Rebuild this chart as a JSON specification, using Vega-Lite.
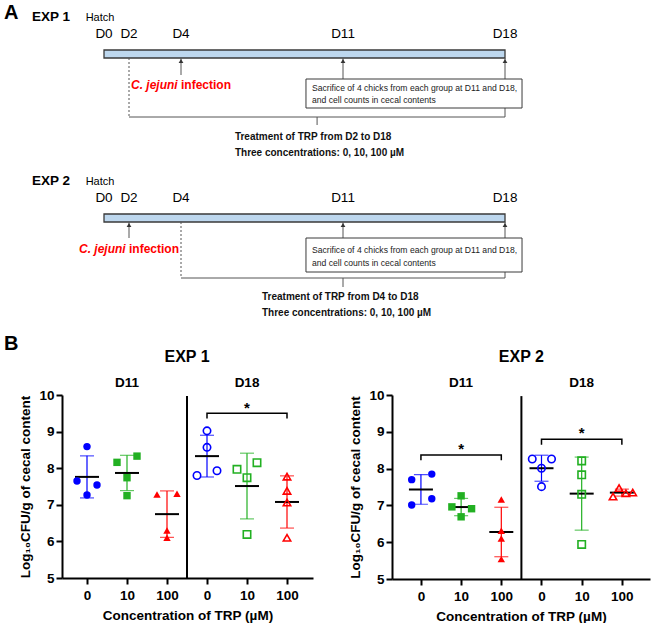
{
  "$schema": "https://vega.github.io/schema/vega-lite/v6.json",
  "padding": {"left": 4, "top": 0, "right": 0, "bottom": 0},
  "bounds": "flush",
  "spacing": 75,
  "config": {
    "font": "Liberation Sans",
    "view": {"stroke": null},
    "axis": {"domainColor": "#000", "domainWidth": 2, "tickColor": "#000", "tickWidth": 2, "tickSize": 6, "labelFontSize": 13.5, "labelFontWeight": "bold", "labelColor": "#000", "titleFontSize": 13.5, "titleFontWeight": "bold", "titleColor": "#000", "grid": false}
  },
  "datasets": {
    "pts": [
      {"exp": "EXP 1", "day": "D11", "conc": "0", "pos": 1, "xj": 1.0, "value": 8.59},
      {"exp": "EXP 1", "day": "D11", "conc": "0", "pos": 1, "xj": 0.75, "value": 7.65},
      {"exp": "EXP 1", "day": "D11", "conc": "0", "pos": 1, "xj": 1.25, "value": 7.54},
      {"exp": "EXP 1", "day": "D11", "conc": "0", "pos": 1, "xj": 1.0, "value": 7.27},
      {"exp": "EXP 1", "day": "D11", "conc": "10", "pos": 2, "xj": 1.75, "value": 8.16},
      {"exp": "EXP 1", "day": "D11", "conc": "10", "pos": 2, "xj": 2.25, "value": 8.33},
      {"exp": "EXP 1", "day": "D11", "conc": "10", "pos": 2, "xj": 2.0, "value": 7.74},
      {"exp": "EXP 1", "day": "D11", "conc": "10", "pos": 2, "xj": 2.0, "value": 7.25},
      {"exp": "EXP 1", "day": "D11", "conc": "100", "pos": 3, "xj": 2.75, "value": 7.28},
      {"exp": "EXP 1", "day": "D11", "conc": "100", "pos": 3, "xj": 3.25, "value": 7.3},
      {"exp": "EXP 1", "day": "D11", "conc": "100", "pos": 3, "xj": 3.0, "value": 6.3},
      {"exp": "EXP 1", "day": "D11", "conc": "100", "pos": 3, "xj": 3.0, "value": 6.1},
      {"exp": "EXP 1", "day": "D18", "conc": "0", "pos": 4, "xj": 4.0, "value": 9.02},
      {"exp": "EXP 1", "day": "D18", "conc": "0", "pos": 4, "xj": 4.0, "value": 8.57},
      {"exp": "EXP 1", "day": "D18", "conc": "0", "pos": 4, "xj": 3.75, "value": 7.8},
      {"exp": "EXP 1", "day": "D18", "conc": "0", "pos": 4, "xj": 4.25, "value": 7.93},
      {"exp": "EXP 1", "day": "D18", "conc": "10", "pos": 5, "xj": 4.75, "value": 7.97},
      {"exp": "EXP 1", "day": "D18", "conc": "10", "pos": 5, "xj": 5.25, "value": 8.15},
      {"exp": "EXP 1", "day": "D18", "conc": "10", "pos": 5, "xj": 5.0, "value": 7.74},
      {"exp": "EXP 1", "day": "D18", "conc": "10", "pos": 5, "xj": 5.0, "value": 6.19},
      {"exp": "EXP 1", "day": "D18", "conc": "100", "pos": 6, "xj": 6.0, "value": 7.77},
      {"exp": "EXP 1", "day": "D18", "conc": "100", "pos": 6, "xj": 6.0, "value": 7.38},
      {"exp": "EXP 1", "day": "D18", "conc": "100", "pos": 6, "xj": 6.0, "value": 7.06},
      {"exp": "EXP 1", "day": "D18", "conc": "100", "pos": 6, "xj": 6.0, "value": 6.1},
      {"exp": "EXP 2", "day": "D11", "conc": "0", "pos": 1, "xj": 0.77, "value": 7.7},
      {"exp": "EXP 2", "day": "D11", "conc": "0", "pos": 1, "xj": 1.27, "value": 7.85},
      {"exp": "EXP 2", "day": "D11", "conc": "0", "pos": 1, "xj": 0.77, "value": 7.01},
      {"exp": "EXP 2", "day": "D11", "conc": "0", "pos": 1, "xj": 1.27, "value": 7.18},
      {"exp": "EXP 2", "day": "D11", "conc": "10", "pos": 2, "xj": 2.0, "value": 7.26},
      {"exp": "EXP 2", "day": "D11", "conc": "10", "pos": 2, "xj": 1.77, "value": 6.96},
      {"exp": "EXP 2", "day": "D11", "conc": "10", "pos": 2, "xj": 2.26, "value": 6.91},
      {"exp": "EXP 2", "day": "D11", "conc": "10", "pos": 2, "xj": 2.0, "value": 6.69},
      {"exp": "EXP 2", "day": "D11", "conc": "100", "pos": 3, "xj": 3.0, "value": 7.16},
      {"exp": "EXP 2", "day": "D11", "conc": "100", "pos": 3, "xj": 3.0, "value": 6.31},
      {"exp": "EXP 2", "day": "D11", "conc": "100", "pos": 3, "xj": 3.0, "value": 6.1},
      {"exp": "EXP 2", "day": "D11", "conc": "100", "pos": 3, "xj": 3.0, "value": 5.54},
      {"exp": "EXP 2", "day": "D18", "conc": "0", "pos": 4, "xj": 3.77, "value": 8.26},
      {"exp": "EXP 2", "day": "D18", "conc": "0", "pos": 4, "xj": 4.25, "value": 8.26},
      {"exp": "EXP 2", "day": "D18", "conc": "0", "pos": 4, "xj": 4.0, "value": 8.01},
      {"exp": "EXP 2", "day": "D18", "conc": "0", "pos": 4, "xj": 4.0, "value": 7.51},
      {"exp": "EXP 2", "day": "D18", "conc": "10", "pos": 5, "xj": 5.0, "value": 8.21},
      {"exp": "EXP 2", "day": "D18", "conc": "10", "pos": 5, "xj": 5.0, "value": 7.83},
      {"exp": "EXP 2", "day": "D18", "conc": "10", "pos": 5, "xj": 5.0, "value": 7.3},
      {"exp": "EXP 2", "day": "D18", "conc": "10", "pos": 5, "xj": 5.0, "value": 5.94},
      {"exp": "EXP 2", "day": "D18", "conc": "100", "pos": 6, "xj": 5.78, "value": 7.24},
      {"exp": "EXP 2", "day": "D18", "conc": "100", "pos": 6, "xj": 5.93, "value": 7.47},
      {"exp": "EXP 2", "day": "D18", "conc": "100", "pos": 6, "xj": 6.1, "value": 7.33},
      {"exp": "EXP 2", "day": "D18", "conc": "100", "pos": 6, "xj": 6.27, "value": 7.35}
    ],
    "brackets": [
      {"exp": "EXP 1", "bid": "a", "o": 1, "x": 4, "y": 9.36},
      {"exp": "EXP 1", "bid": "a", "o": 2, "x": 4, "y": 9.5},
      {"exp": "EXP 1", "bid": "a", "o": 3, "x": 6, "y": 9.5},
      {"exp": "EXP 1", "bid": "a", "o": 4, "x": 6, "y": 9.36},
      {"exp": "EXP 2", "bid": "b", "o": 1, "x": 1, "y": 8.23},
      {"exp": "EXP 2", "bid": "b", "o": 2, "x": 1, "y": 8.37},
      {"exp": "EXP 2", "bid": "b", "o": 3, "x": 3, "y": 8.37},
      {"exp": "EXP 2", "bid": "b", "o": 4, "x": 3, "y": 8.23},
      {"exp": "EXP 2", "bid": "c", "o": 1, "x": 4, "y": 8.65},
      {"exp": "EXP 2", "bid": "c", "o": 2, "x": 4, "y": 8.8},
      {"exp": "EXP 2", "bid": "c", "o": 3, "x": 6, "y": 8.8},
      {"exp": "EXP 2", "bid": "c", "o": 4, "x": 6, "y": 8.65}
    ],
    "labels": [
      {"exp": "EXP 1", "kind": "star", "x": 5, "y": 9.52, "text": "*"},
      {"exp": "EXP 2", "kind": "star", "x": 2, "y": 8.39, "text": "*"},
      {"exp": "EXP 2", "kind": "star", "x": 5, "y": 8.82, "text": "*"},
      {"exp": "EXP 1", "kind": "head", "x": 2, "y": 10.22, "text": "D11"},
      {"exp": "EXP 1", "kind": "head", "x": 5, "y": 10.22, "text": "D18"},
      {"exp": "EXP 2", "kind": "head", "x": 2, "y": 10.22, "text": "D11"},
      {"exp": "EXP 2", "kind": "head", "x": 5, "y": 10.22, "text": "D18"},
      {"exp": "EXP 1", "kind": "title", "x": 3.5, "y": 10.9, "text": "EXP 1"},
      {"exp": "EXP 2", "kind": "title", "x": 3.5, "y": 10.9, "text": "EXP 2"}
    ]
  },
  "vconcat": [
    {
      "width": 598,
      "height": 320,
      "encoding": {
        "x": {"field": "day", "type": "quantitative", "scale": {"domain": [-8, 0, 2, 4, 11, 18, 19], "range": [-58, 42, 67, 119, 281, 443, 466], "nice": false, "zero": false}, "axis": null},
        "y": {"field": "y", "type": "quantitative", "scale": {"domain": [0, 320], "range": [0, 320], "nice": false, "zero": false}, "axis": null}
      },
      "layer": [
        {
          "data": {"values": [
            {"day": 0, "day2": 18, "y": 50, "y2": 58},
            {"day": 0, "day2": 18, "y": 214, "y2": 222}
          ]},
          "mark": {"type": "rect", "fill": "#bdd7ee", "stroke": "#3a3a3a", "strokeWidth": 1.3},
          "encoding": {"x2": {"field": "day2"}, "y2": {"field": "y2"}}
        },
        {
          "data": {"values": [
            {"day": 4, "day2": 4, "y": 58, "y2": 75},
            {"day": 11, "day2": 11, "y": 58, "y2": 79},
            {"day": 18, "day2": 18, "y": 58, "y2": 79},
            {"day": 2, "day2": 18, "y": 117, "y2": 117},
            {"day": 18, "day2": 18, "y": 108, "y2": 117},
            {"day": 9.88, "day2": 9.88, "y": 117, "y2": 125},
            {"day": 2, "day2": 2, "y": 222, "y2": 238},
            {"day": 11, "day2": 11, "y": 222, "y2": 238},
            {"day": 18, "day2": 18, "y": 222, "y2": 238},
            {"day": 4, "day2": 18, "y": 278, "y2": 278},
            {"day": 18, "day2": 18, "y": 272, "y2": 278},
            {"day": 11, "day2": 11, "y": 278, "y2": 287}
          ]},
          "mark": {"type": "rule", "color": "#555", "strokeWidth": 1},
          "encoding": {"x2": {"field": "day2"}, "y2": {"field": "y2"}}
        },
        {
          "data": {"values": [
            {"day": 2, "day2": 2, "y": 58, "y2": 117},
            {"day": 4, "day2": 4, "y": 222, "y2": 278}
          ]},
          "mark": {"type": "rule", "color": "#555", "strokeWidth": 1, "strokeDash": [2, 2]},
          "encoding": {"x2": {"field": "day2"}, "y2": {"field": "y2"}}
        },
        {
          "data": {"values": [
            {"day": 9.4, "day2": 18.74, "y": 79, "y2": 108},
            {"day": 9.4, "day2": 18.74, "y": 238, "y2": 272}
          ]},
          "mark": {"type": "rect", "fill": "#ffffff", "stroke": "#3a3a3a", "strokeWidth": 1},
          "encoding": {"x2": {"field": "day2"}, "y2": {"field": "y2"}}
        },
        {
          "data": {"values": [
            {"day": 4, "y": 61}, {"day": 11, "y": 61}, {"day": 18, "y": 61},
            {"day": 2, "y": 225}, {"day": 11, "y": 225}, {"day": 18, "y": 225}
          ]},
          "mark": {"type": "point", "shape": "triangle-up", "filled": true, "size": 22, "color": "#333", "opacity": 1},
          "encoding": {}
        },
        {
          "data": {"values": [{"day": -8, "y": 19, "text": "A"}]},
          "mark": {"type": "text", "align": "left", "baseline": "alphabetic", "fontSize": 20, "fontWeight": "bold", "color": "#000"},
          "encoding": {"text": {"field": "text"}}
        },
        {
          "data": {"values": [{"day": -5.76, "y": 21, "text": "EXP 1"}, {"day": -5.76, "y": 185, "text": "EXP 2"}]},
          "mark": {"type": "text", "align": "left", "baseline": "alphabetic", "fontSize": 13.5, "fontWeight": "bold", "color": "#000"},
          "encoding": {"text": {"field": "text"}}
        },
        {
          "data": {"values": [{"day": -0.32, "y": 21, "text": "Hatch"}, {"day": -0.32, "y": 185, "text": "Hatch"}]},
          "mark": {"type": "text", "align": "center", "baseline": "alphabetic", "fontSize": 11, "color": "#000"},
          "encoding": {"text": {"field": "text"}}
        },
        {
          "data": {"values": [
            {"day": 0, "y": 38, "text": "D0"}, {"day": 2, "y": 38, "text": "D2"}, {"day": 4, "y": 38, "text": "D4"}, {"day": 11, "y": 38, "text": "D11"}, {"day": 18, "y": 38, "text": "D18"},
            {"day": 0, "y": 202, "text": "D0"}, {"day": 2, "y": 202, "text": "D2"}, {"day": 4, "y": 202, "text": "D4"}, {"day": 11, "y": 202, "text": "D11"}, {"day": 18, "y": 202, "text": "D18"}
          ]},
          "mark": {"type": "text", "align": "center", "baseline": "alphabetic", "fontSize": 13.5, "color": "#000"},
          "encoding": {"text": {"field": "text"}}
        },
        {
          "data": {"values": [{"day": 4, "y": 89, "text": "C. jejuni"}, {"day": 2, "y": 253, "text": "C. jejuni"}]},
          "mark": {"type": "text", "align": "right", "dx": -3.3, "baseline": "alphabetic", "fontSize": 12, "fontWeight": "bold", "fontStyle": "italic", "color": "#ff0000"},
          "encoding": {"text": {"field": "text"}}
        },
        {
          "data": {"values": [{"day": 4, "y": 89, "text": "infection"}, {"day": 2, "y": 253, "text": "infection"}]},
          "mark": {"type": "text", "align": "left", "baseline": "alphabetic", "fontSize": 12, "fontWeight": "bold", "color": "#ff0000"},
          "encoding": {"text": {"field": "text"}}
        },
        {
          "data": {"values": [
            {"day": 9.66, "y": 88, "text": "Sacrifice of 4 chicks from each group at D11 and D18,"},
            {"day": 9.66, "y": 100, "text": "and cell counts in cecal contents"},
            {"day": 9.66, "y": 250, "text": "Sacrifice of 4 chicks from each group at D11 and D18,"},
            {"day": 9.66, "y": 263, "text": "and cell counts in cecal contents"}
          ]},
          "mark": {"type": "text", "align": "left", "baseline": "middle", "fontSize": 8.6, "color": "#222"},
          "encoding": {"text": {"field": "text"}}
        },
        {
          "data": {"values": [
            {"day": 6.33, "y": 137, "text": "Treatment of TRP from D2 to D18"},
            {"day": 6.33, "y": 153, "text": "Three concentrations: 0, 10, 100 µM"},
            {"day": 7.5, "y": 297, "text": "Treatment of TRP from D4 to D18"},
            {"day": 7.5, "y": 313, "text": "Three concentrations: 0, 10, 100 µM"}
          ]},
          "mark": {"type": "text", "align": "left", "baseline": "middle", "fontSize": 10, "fontWeight": "bold", "color": "#111"},
          "encoding": {"text": {"field": "text"}}
        }
      ]
    },
    {
      "hconcat": [
        {
          "width": 251,
          "height": 183,
          "encoding": {
            "x": {"type": "quantitative", "scale": {"domain": [0.375, 6.65], "nice": false, "zero": false}, "axis": {"values": [1, 2, 3, 4, 5, 6], "labelExpr": "['0','10','100','0','10','100'][datum.value-1]", "title": "Concentration of TRP (µM)", "labelPadding": 4, "titlePadding": 7}},
            "y": {"type": "quantitative", "scale": {"domain": [5, 10], "nice": false, "zero": false}, "axis": {"values": [5, 6, 7, 8, 9, 10], "title": "Log₁₀CFU/g of cecal content", "labelPadding": 2, "titlePadding": 6}}
          },
          "layer": [
            {
              "data": {"values": [{"x": 3.5, "y": 5, "y2": 9.97}]},
              "mark": {"type": "rule", "color": "#000", "strokeWidth": 2},
              "encoding": {"x": {"field": "x"}, "y": {"field": "y"}, "y2": {"field": "y2"}}
            },
            {
              "data": {"name": "pts"},
              "transform": [{"filter": "datum.exp === 'EXP 1'"}],
              "mark": {"type": "errorbar", "extent": "stdev", "ticks": true, "size": 14, "thickness": 1.2, "orient": "vertical"},
              "encoding": {
                "x": {"field": "pos"},
                "y": {"field": "value"},
                "color": {"field": "conc", "type": "nominal", "scale": {"domain": ["0", "10", "100"], "range": ["#0000ff", "#22b022", "#ff0000"]}, "legend": null}
              }
            },
            {
              "data": {"name": "pts"},
              "transform": [{"filter": "datum.exp === 'EXP 1'"}],
              "mark": {"type": "tick", "orient": "horizontal", "size": 24, "thickness": 2, "color": "#000"},
              "encoding": {"x": {"field": "pos"}, "y": {"aggregate": "mean", "field": "value"}}
            },
            {
              "data": {"name": "pts"},
              "transform": [{"filter": "datum.exp === 'EXP 1' && datum.day === 'D11'"}],
              "mark": {"type": "point", "filled": true, "size": 55, "opacity": 1},
              "encoding": {
                "x": {"field": "xj"},
                "y": {"field": "value"},
                "color": {"field": "conc", "type": "nominal", "scale": {"domain": ["0", "10", "100"], "range": ["#0000ff", "#22b022", "#ff0000"]}, "legend": null},
                "shape": {"field": "conc", "type": "nominal", "scale": {"domain": ["0", "10", "100"], "range": ["circle", "square", "triangle-up"]}, "legend": null}
              }
            },
            {
              "data": {"name": "pts"},
              "transform": [{"filter": "datum.exp === 'EXP 1' && datum.day === 'D18'"}],
              "mark": {"type": "point", "filled": false, "size": 55, "strokeWidth": 1.6, "opacity": 1},
              "encoding": {
                "x": {"field": "xj"},
                "y": {"field": "value"},
                "color": {"field": "conc", "type": "nominal", "scale": {"domain": ["0", "10", "100"], "range": ["#0000ff", "#22b022", "#ff0000"]}, "legend": null},
                "shape": {"field": "conc", "type": "nominal", "scale": {"domain": ["0", "10", "100"], "range": ["circle", "square", "triangle-up"]}, "legend": null}
              }
            },
            {
              "data": {"name": "brackets"},
              "transform": [{"filter": "datum.exp === 'EXP 1'"}],
              "mark": {"type": "line", "color": "#000", "strokeWidth": 1.5},
              "encoding": {"x": {"field": "x"}, "y": {"field": "y"}, "detail": {"field": "bid"}, "order": {"field": "o"}}
            },
            {
              "data": {"name": "labels"},
              "transform": [{"filter": "datum.exp === 'EXP 1' && datum.kind === 'star'"}],
              "mark": {"type": "text", "baseline": "alphabetic", "align": "center", "fontSize": 15, "fontWeight": "bold", "color": "#000"},
              "encoding": {"x": {"field": "x"}, "y": {"field": "y"}, "text": {"field": "text"}}
            },
            {
              "data": {"name": "labels"},
              "transform": [{"filter": "datum.exp === 'EXP 1' && datum.kind === 'head'"}],
              "mark": {"type": "text", "baseline": "alphabetic", "align": "center", "fontSize": 13.5, "fontWeight": "bold", "color": "#000"},
              "encoding": {"x": {"field": "x"}, "y": {"field": "y"}, "text": {"field": "text"}}
            },
            {
              "data": {"name": "labels"},
              "transform": [{"filter": "datum.exp === 'EXP 1' && datum.kind === 'title'"}],
              "mark": {"type": "text", "baseline": "alphabetic", "align": "center", "fontSize": 16, "fontWeight": "bold", "color": "#000"},
              "encoding": {"x": {"field": "x"}, "y": {"field": "y"}, "text": {"field": "text"}}
            },
            {
              "data": {"values": [{"x": -1.075, "y": 11.23, "text": "B"}]},
              "mark": {"type": "text", "baseline": "alphabetic", "align": "left", "fontSize": 20, "fontWeight": "bold", "color": "#000"},
              "encoding": {"x": {"field": "x"}, "y": {"field": "y"}, "text": {"field": "text"}}
            }
          ]
        },
        {
          "width": 258,
          "height": 184,
          "encoding": {
            "x": {"type": "quantitative", "scale": {"domain": [0.28, 6.7], "nice": false, "zero": false}, "axis": {"values": [1, 2, 3, 4, 5, 6], "labelExpr": "['0','10','100','0','10','100'][datum.value-1]", "title": "Concentration of TRP (µM)", "labelPadding": 4, "titlePadding": 7}},
            "y": {"type": "quantitative", "scale": {"domain": [5, 10], "nice": false, "zero": false}, "axis": {"values": [5, 6, 7, 8, 9, 10], "title": "Log₁₀CFU/g of cecal content", "labelPadding": 2, "titlePadding": 6}}
          },
          "layer": [
            {
              "data": {"values": [{"x": 3.5, "y": 5, "y2": 9.97}]},
              "mark": {"type": "rule", "color": "#000", "strokeWidth": 2},
              "encoding": {"x": {"field": "x"}, "y": {"field": "y"}, "y2": {"field": "y2"}}
            },
            {
              "data": {"name": "pts"},
              "transform": [{"filter": "datum.exp === 'EXP 2'"}],
              "mark": {"type": "errorbar", "extent": "stdev", "ticks": true, "size": 14, "thickness": 1.2, "orient": "vertical"},
              "encoding": {
                "x": {"field": "pos"},
                "y": {"field": "value"},
                "color": {"field": "conc", "type": "nominal", "scale": {"domain": ["0", "10", "100"], "range": ["#0000ff", "#22b022", "#ff0000"]}, "legend": null}
              }
            },
            {
              "data": {"name": "pts"},
              "transform": [{"filter": "datum.exp === 'EXP 2'"}],
              "mark": {"type": "tick", "orient": "horizontal", "size": 24, "thickness": 2, "color": "#000"},
              "encoding": {"x": {"field": "pos"}, "y": {"aggregate": "mean", "field": "value"}}
            },
            {
              "data": {"name": "pts"},
              "transform": [{"filter": "datum.exp === 'EXP 2' && datum.day === 'D11'"}],
              "mark": {"type": "point", "filled": true, "size": 55, "opacity": 1},
              "encoding": {
                "x": {"field": "xj"},
                "y": {"field": "value"},
                "color": {"field": "conc", "type": "nominal", "scale": {"domain": ["0", "10", "100"], "range": ["#0000ff", "#22b022", "#ff0000"]}, "legend": null},
                "shape": {"field": "conc", "type": "nominal", "scale": {"domain": ["0", "10", "100"], "range": ["circle", "square", "triangle-up"]}, "legend": null}
              }
            },
            {
              "data": {"name": "pts"},
              "transform": [{"filter": "datum.exp === 'EXP 2' && datum.day === 'D18'"}],
              "mark": {"type": "point", "filled": false, "size": 55, "strokeWidth": 1.6, "opacity": 1},
              "encoding": {
                "x": {"field": "xj"},
                "y": {"field": "value"},
                "color": {"field": "conc", "type": "nominal", "scale": {"domain": ["0", "10", "100"], "range": ["#0000ff", "#22b022", "#ff0000"]}, "legend": null},
                "shape": {"field": "conc", "type": "nominal", "scale": {"domain": ["0", "10", "100"], "range": ["circle", "square", "triangle-up"]}, "legend": null}
              }
            },
            {
              "data": {"name": "brackets"},
              "transform": [{"filter": "datum.exp === 'EXP 2'"}],
              "mark": {"type": "line", "color": "#000", "strokeWidth": 1.5},
              "encoding": {"x": {"field": "x"}, "y": {"field": "y"}, "detail": {"field": "bid"}, "order": {"field": "o"}}
            },
            {
              "data": {"name": "labels"},
              "transform": [{"filter": "datum.exp === 'EXP 2' && datum.kind === 'star'"}],
              "mark": {"type": "text", "baseline": "alphabetic", "align": "center", "fontSize": 15, "fontWeight": "bold", "color": "#000"},
              "encoding": {"x": {"field": "x"}, "y": {"field": "y"}, "text": {"field": "text"}}
            },
            {
              "data": {"name": "labels"},
              "transform": [{"filter": "datum.exp === 'EXP 2' && datum.kind === 'head'"}],
              "mark": {"type": "text", "baseline": "alphabetic", "align": "center", "fontSize": 13.5, "fontWeight": "bold", "color": "#000"},
              "encoding": {"x": {"field": "x"}, "y": {"field": "y"}, "text": {"field": "text"}}
            },
            {
              "data": {"name": "labels"},
              "transform": [{"filter": "datum.exp === 'EXP 2' && datum.kind === 'title'"}],
              "mark": {"type": "text", "baseline": "alphabetic", "align": "center", "fontSize": 16, "fontWeight": "bold", "color": "#000"},
              "encoding": {"x": {"field": "x"}, "y": {"field": "y"}, "text": {"field": "text"}}
            }
          ]
        }
      ],
      "spacing": 79,
      "bounds": "flush"
    }
  ]
}
